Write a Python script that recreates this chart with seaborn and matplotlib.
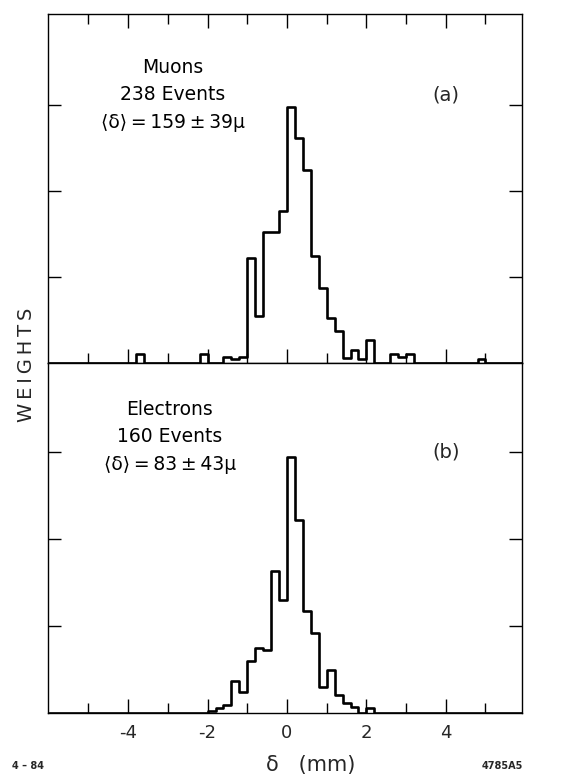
import numpy as np
import pandas as pd
import matplotlib
matplotlib.use("Agg")
import matplotlib.pyplot as plt
import seaborn as sns

# Impact-parameter histograms, 0.2 mm bins: left edge of each non-empty bin and its weight
muon_bin_left = [-3.8, -2.2, -1.6, -1.4, -1.2, -1.0, -0.8, -0.6, -0.4, -0.2,
                 0.0, 0.2, 0.4, 0.6, 0.8, 1.0, 1.2, 1.4, 1.6, 1.8,
                 2.0, 2.6, 2.8, 3.0, 4.8]
muon_weight = [0.10, 0.10, 0.075, 0.05, 0.075, 1.22, 0.55, 1.52, 1.52, 1.77,
               2.98, 2.62, 2.24, 1.24, 0.87, 0.52, 0.37, 0.06, 0.15, 0.05,
               0.27, 0.11, 0.07, 0.11, 0.05]

elec_bin_left = [-2.0, -1.8, -1.6, -1.4, -1.2, -1.0, -0.8, -0.6, -0.4, -0.2,
                 0.0, 0.2, 0.4, 0.6, 0.8, 1.0, 1.2, 1.4, 1.6, 2.0]
elec_weight = [0.02, 0.06, 0.09, 0.37, 0.24, 0.60, 0.75, 0.72, 1.63, 1.30,
               2.95, 2.22, 1.18, 0.92, 0.30, 0.50, 0.21, 0.11, 0.07, 0.06]

bin_width = 0.2
x_tick_values = [-4, -2, 0, 2, 4]
x_tick_labels = ["-4", "-2", "0", "2", "4"]
x_minor_values = [-5, -3, -1, 1, 3, 5]
y_tick_values = [1, 2, 3]

muon_text = ["Muons", "238 Events", "⟨δ⟩\u2009=\u2009159\u2009±\u200939μ"]
elec_text = ["Electrons", "160 Events", "⟨δ⟩\u2009=\u200983\u2009±\u200943μ"]

sns.set_theme(style="white")
plt.rcParams["font.family"] = ["DejaVu Sans"]
plt.rcParams["axes.unicode_minus"] = False

W, H = 568, 778
fig = plt.figure(figsize=(W / 100, H / 100), dpi=100)
fig.patch.set_facecolor("white")

left_px, right_px = 48, 522
top_px, mid_px, bot_px = 14, 363, 713
ax_a = fig.add_axes([left_px / W, 1 - mid_px / H, (right_px - left_px) / W, (mid_px - top_px) / H])
ax_b = fig.add_axes([left_px / W, 1 - bot_px / H, (right_px - left_px) / W, (bot_px - mid_px) / H])

edges = [round(k * bin_width, 2) for k in range(-30, 31)]

def draw_hist(ax, lefts, weights):
    df = pd.DataFrame({"delta": np.asarray(lefts) + bin_width / 2, "w": weights})
    sns.histplot(data=df, x="delta", weights="w", bins=edges, element="step",
                 fill=False, color="black", linewidth=1.9, ax=ax)
    ax.set_xlim(-6.02, 5.92)
    ax.set_xlabel("")
    ax.set_ylabel("")
    ax.set_yticks(y_tick_values)
    ax.set_yticklabels([])
    ax.set_xticks(x_tick_values)
    ax.set_xticks(x_minor_values, minor=True)
    for s in ax.spines.values():
        s.set_color("black")
        s.set_linewidth(1.0)
    ax.tick_params(axis="y", which="major", direction="in", length=9.5, width=1.0,
                   left=True, right=True, labelleft=False, labelright=False, color="black")
    ax.tick_params(axis="x", which="major", direction="in", length=10, width=1.0, color="black")
    ax.tick_params(axis="x", which="minor", direction="in", length=7, width=1.0, color="black")
    ax.set_facecolor("white")

draw_hist(ax_a, muon_bin_left, muon_weight)
draw_hist(ax_b, elec_bin_left, elec_weight)

ax_a.set_ylim(0, 4.06)
ax_b.set_ylim(0, 4.03)

ax_a.tick_params(axis="x", which="both", top=True, bottom=True, labelbottom=False)
ax_b.tick_params(axis="x", which="both", top=False, bottom=True, labelbottom=True,
                 labelsize=13, pad=8)
ax_b.set_xticklabels(x_tick_labels)

# panel annotations
for ax, lines, ys, xc in [(ax_a, muon_text, [0.846, 0.769, 0.69], -2.87),
                          (ax_b, elec_text, [0.866, 0.789, 0.711], -2.95)]:
    for line, y in zip(lines, ys):
        ax.text(xc, y, line, transform=ax.get_xaxis_transform(), ha="center",
                va="center", fontsize=13.5, color="black")

ax_a.text(4.0, 0.768, "(a)", transform=ax_a.get_xaxis_transform(), ha="center",
          va="center", fontsize=14)
ax_b.text(4.0, 0.746, "(b)", transform=ax_b.get_xaxis_transform(), ha="center",
          va="center", fontsize=14)

fig.text(27 / W, 1 - 365 / H, "W\u2009E\u2009I\u2009G\u2009H\u2009T\u2009S", rotation=90,
         ha="center", va="center", fontsize=14)
fig.text(311 / W, 1 - 765 / H, "δ   (mm)", ha="center", va="center", fontsize=15)
fig.text(28 / W, 1 - 766 / H, "4 – 84", ha="center", va="center", fontsize=7, fontweight="bold")
fig.text(502 / W, 1 - 766 / H, "4785A5", ha="center", va="center", fontsize=7, fontweight="bold")

fig.savefig("out.png", dpi=100, facecolor="white")
